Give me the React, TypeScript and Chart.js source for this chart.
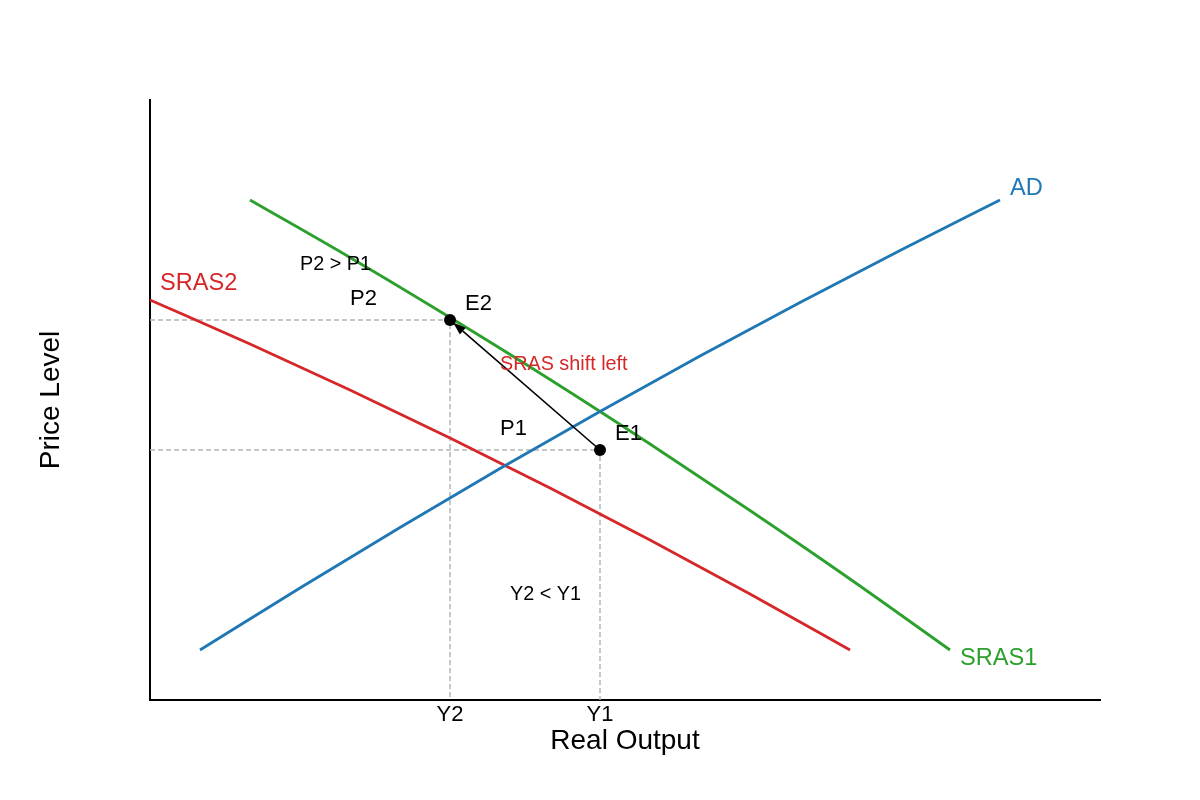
import { useEffect, useRef } from 'react';
import { Chart, ChartConfiguration, Plugin } from 'chart.js/auto';

// Curves in (output, price) units
const adX = [1, 3, 5, 7, 9, 11, 13, 15, 17];
const adY = [1.0, 2.24, 3.45, 4.63, 5.77, 6.88, 7.95, 8.99, 10.0];
const sras1X = [2, 4, 6, 8, 10, 12, 14, 16];
const sras1Y = [10.0, 8.85, 7.65, 6.41, 5.12, 3.79, 2.42, 1.0];
const sras2X = [0, 2, 4, 6, 8, 10, 12, 14];
const sras2Y = [8.0, 7.12, 6.2, 5.24, 4.24, 3.2, 2.12, 1.0];

// E1 then E2
const equilibria = [{ x: 9, y: 5 }, { x: 6, y: 7.6 }];

const outputTicks = [6, 9];
const outputTickLabels = ['Y2', 'Y1'];

const curveLabels = [
  { text: 'AD', x: 17.2, y: 10.1 },
  { text: 'SRAS1', x: 16.2, y: 0.7 },
  { text: 'SRAS2', x: 0.2, y: 8.2 },
];
const pointLabels = [
  { text: 'E1', x: 9.3, y: 5.2 },
  { text: 'E2', x: 6.3, y: 7.8 },
  { text: 'P1', x: 7, y: 5.3 },
  { text: 'P2', x: 4, y: 7.9 },
];
const noteLabels = [
  { text: 'P2 > P1', x: 3, y: 8.6 },
  { text: 'SRAS shift left', x: 7, y: 6.6 },
  { text: 'Y2 < Y1', x: 7.2, y: 2.0 },
];

const BLUE = '#1f77b4';
const GREEN = '#2ca02c';
const RED = '#d62728';
const FONT = '"Liberation Sans", Arial, sans-serif';

const curveColors = [BLUE, GREEN, RED];
const noteColors = ['#000', RED, '#000'];

const toPoints = (xs: number[], ys: number[]) => xs.map((x, i) => ({ x, y: ys[i] }));

const annotations: Plugin = {
  id: 'annotations',
  afterDatasetsDraw(chart) {
    const { ctx } = chart;
    const xs = chart.scales.x;
    const ys = chart.scales.y;

    // arrow E1 -> E2
    const x0 = xs.getPixelForValue(equilibria[0].x);
    const y0 = ys.getPixelForValue(equilibria[0].y);
    const x1 = xs.getPixelForValue(equilibria[1].x);
    const y1 = ys.getPixelForValue(equilibria[1].y);
    const ang = Math.atan2(y1 - y0, x1 - x0);
    const tipX = x1 - Math.cos(ang) * 4;
    const tipY = y1 - Math.sin(ang) * 4;
    const head = 13;
    const baseX = tipX - Math.cos(ang) * head;
    const baseY = tipY - Math.sin(ang) * head;
    ctx.save();
    ctx.strokeStyle = '#000';
    ctx.fillStyle = '#000';
    ctx.lineWidth = 1.6;
    ctx.beginPath();
    ctx.moveTo(x0, y0);
    ctx.lineTo(baseX, baseY);
    ctx.stroke();
    ctx.beginPath();
    ctx.moveTo(tipX, tipY);
    ctx.lineTo(baseX + Math.sin(ang) * 4.5, baseY - Math.cos(ang) * 4.5);
    ctx.lineTo(baseX - Math.sin(ang) * 4.5, baseY + Math.cos(ang) * 4.5);
    ctx.closePath();
    ctx.fill();

    ctx.textAlign = 'left';
    ctx.textBaseline = 'alphabetic';
    ctx.font = `23.6px ${FONT}`;
    curveLabels.forEach((l, i) => {
      ctx.fillStyle = curveColors[i];
      ctx.fillText(l.text, xs.getPixelForValue(l.x), ys.getPixelForValue(l.y));
    });
    ctx.font = `22px ${FONT}`;
    ctx.fillStyle = '#000';
    pointLabels.forEach((l) => {
      ctx.fillText(l.text, xs.getPixelForValue(l.x), ys.getPixelForValue(l.y));
    });
    ctx.font = `19.8px ${FONT}`;
    noteLabels.forEach((l, i) => {
      ctx.fillStyle = noteColors[i];
      ctx.fillText(l.text, xs.getPixelForValue(l.x), ys.getPixelForValue(l.y));
    });
    ctx.restore();
  },
};

export default function App() {
  const chartRef = useRef<HTMLCanvasElement>(null);
  const chartInstance = useRef<Chart | null>(null);

  useEffect(() => {
    document.body.style.margin = '0';
    if (!chartRef.current) return;
    if (chartInstance.current) chartInstance.current.destroy();

    const guides = equilibria.map((e) => [
      { x: 0, y: e.y },
      { x: e.x, y: e.y },
      { x: e.x, y: 0 },
    ]);

    const curve = (data: { x: number; y: number }[], color: string) => ({
      data,
      showLine: true,
      borderColor: color,
      borderWidth: 2.8,
      pointRadius: 0,
      cubicInterpolationMode: 'monotone',
      order: 1,
    });

    const config: ChartConfiguration = {
      type: 'scatter',
      data: {
        datasets: [
          {
            data: equilibria,
            pointRadius: 6,
            pointBackgroundColor: '#000',
            pointBorderWidth: 0,
            order: 0,
          },
          curve(toPoints(adX, adY), BLUE),
          curve(toPoints(sras1X, sras1Y), GREEN),
          curve(toPoints(sras2X, sras2Y), RED),
          ...guides.map((g) => ({
            data: g,
            showLine: true,
            borderColor: '#b5b5b5',
            borderWidth: 1.5,
            borderDash: [5, 3],
            pointRadius: 0,
            order: 5,
          })),
        ] as any,
      },
      options: {
        responsive: true,
        maintainAspectRatio: false,
        animation: false,
        layout: { padding: { top: 100, right: 100, left: 0, bottom: 0 } },
        plugins: {
          legend: { display: false },
          tooltip: { enabled: false },
        },
        scales: {
          x: {
            type: 'linear',
            min: 0,
            max: 19,
            grid: { display: false, drawTicks: false },
            border: { display: true, color: '#000', width: 2 },
            afterBuildTicks: (scale) => {
              scale.ticks = outputTicks.map((v) => ({ value: v }));
            },
            afterFit: (scale) => {
              scale.height = 100;
            },
            ticks: {
              padding: 2,
              color: '#000',
              font: { family: FONT, size: 22 },
              maxRotation: 0,
              autoSkip: false,
              callback: (_v, i) => outputTickLabels[i],
            },
            title: {
              display: true,
              text: 'Real Output',
              color: '#000',
              font: { family: FONT, size: 28 },
              padding: { top: 0, bottom: 42 },
            },
          },
          y: {
            type: 'linear',
            min: 0,
            max: 12,
            grid: { display: false, drawTicks: false },
            border: { display: true, color: '#000', width: 2 },
            ticks: { display: false },
            afterFit: (scale) => {
              scale.width = 150;
            },
            title: {
              display: true,
              text: 'Price Level',
              color: '#000',
              font: { family: FONT, size: 28 },
              padding: { top: 34, bottom: 0 },
            },
          },
        },
      },
      plugins: [annotations],
    };

    chartInstance.current = new Chart(chartRef.current, config);
    return () => {
      if (chartInstance.current) {
        chartInstance.current.destroy();
        chartInstance.current = null;
      }
    };
  }, []);

  return (
    <div style={{ width: 1200, height: 800, background: '#fff' }}>
      <canvas ref={chartRef} />
    </div>
  );
}
